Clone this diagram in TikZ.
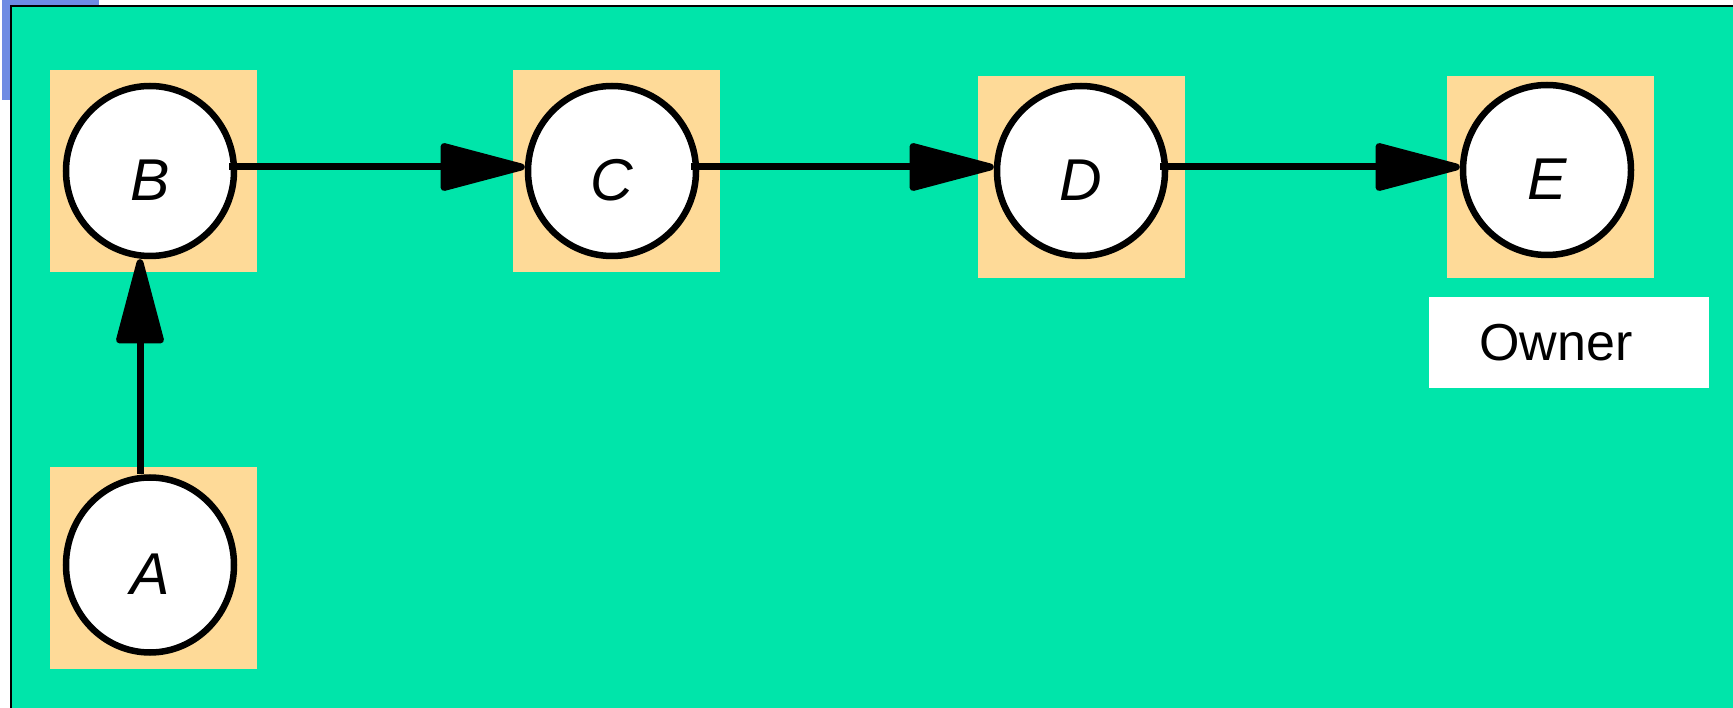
\documentclass[tikz,border=0pt]{standalone}
\usepackage{fontspec}
\setmainfont{Liberation Sans}
\usetikzlibrary{arrows.meta,shapes.geometric}

\definecolor{sea}{RGB}{0,229,170}
\definecolor{sand}{RGB}{254,218,152}
\definecolor{sky}{RGB}{110,139,227}

\begin{document}
\begin{tikzpicture}[x=1pt, y=-1pt,
  state/.style={ellipse, draw, fill=white, line width=6.5pt, inner sep=0pt,
    minimum width=168pt, minimum height=170pt, text height=59pt, text depth=0pt,
    font=\fontsize{59}{62}\selectfont\itshape},
  cell/.style={fill=sand, inner sep=0pt, minimum width=207pt, minimum height=202pt},
  tag/.style={fill=white, inner sep=0pt, minimum width=280pt, minimum height=91pt,
    font=\fontsize{52}{60}\selectfont},
  link/.style={line width=7pt, -{Triangle[length=95pt,width=48pt,round]}}]

  \useasboundingbox[fill=white] (0,0) rectangle (1733,708);
  \fill[sky] (2,0) rectangle (99,100);
  \draw[fill=sea, line width=2pt] (11,6) rectangle (1760,730);

  \foreach \n/\x/\y in {A/153/568, B/153/171, C/616/171, D/1081/177, E/1550/177}
    \node[cell] (c\n) at (\x,\y) {};

  \node[state, minimum height=175pt] (A) at (150,565) {A};
  \node[state] (B) at (150,171) {B};
  \node[state] (C) at (612,171) {C};
  \node[state] (D) at (1081,171) {D};
  \node[state] (E) at (1547,170) {E};

  \node[tag] (owner) at (1569,343) {Owner\kern26pt};

  \draw[link] ([xshift=-10pt]A.north) -- ([xshift=-10pt]B.south);
  \draw[link] ([shift={(-8pt,4pt)}]B.east) -- ([yshift=4pt]C.west);
  \draw[link] ([shift={(-8pt,4pt)}]C.east) -- ([yshift=4pt]D.west);
  \draw[link] ([shift={(-8pt,4pt)}]D.east) -- ([yshift=3pt]E.west);
\end{tikzpicture}
\end{document}
